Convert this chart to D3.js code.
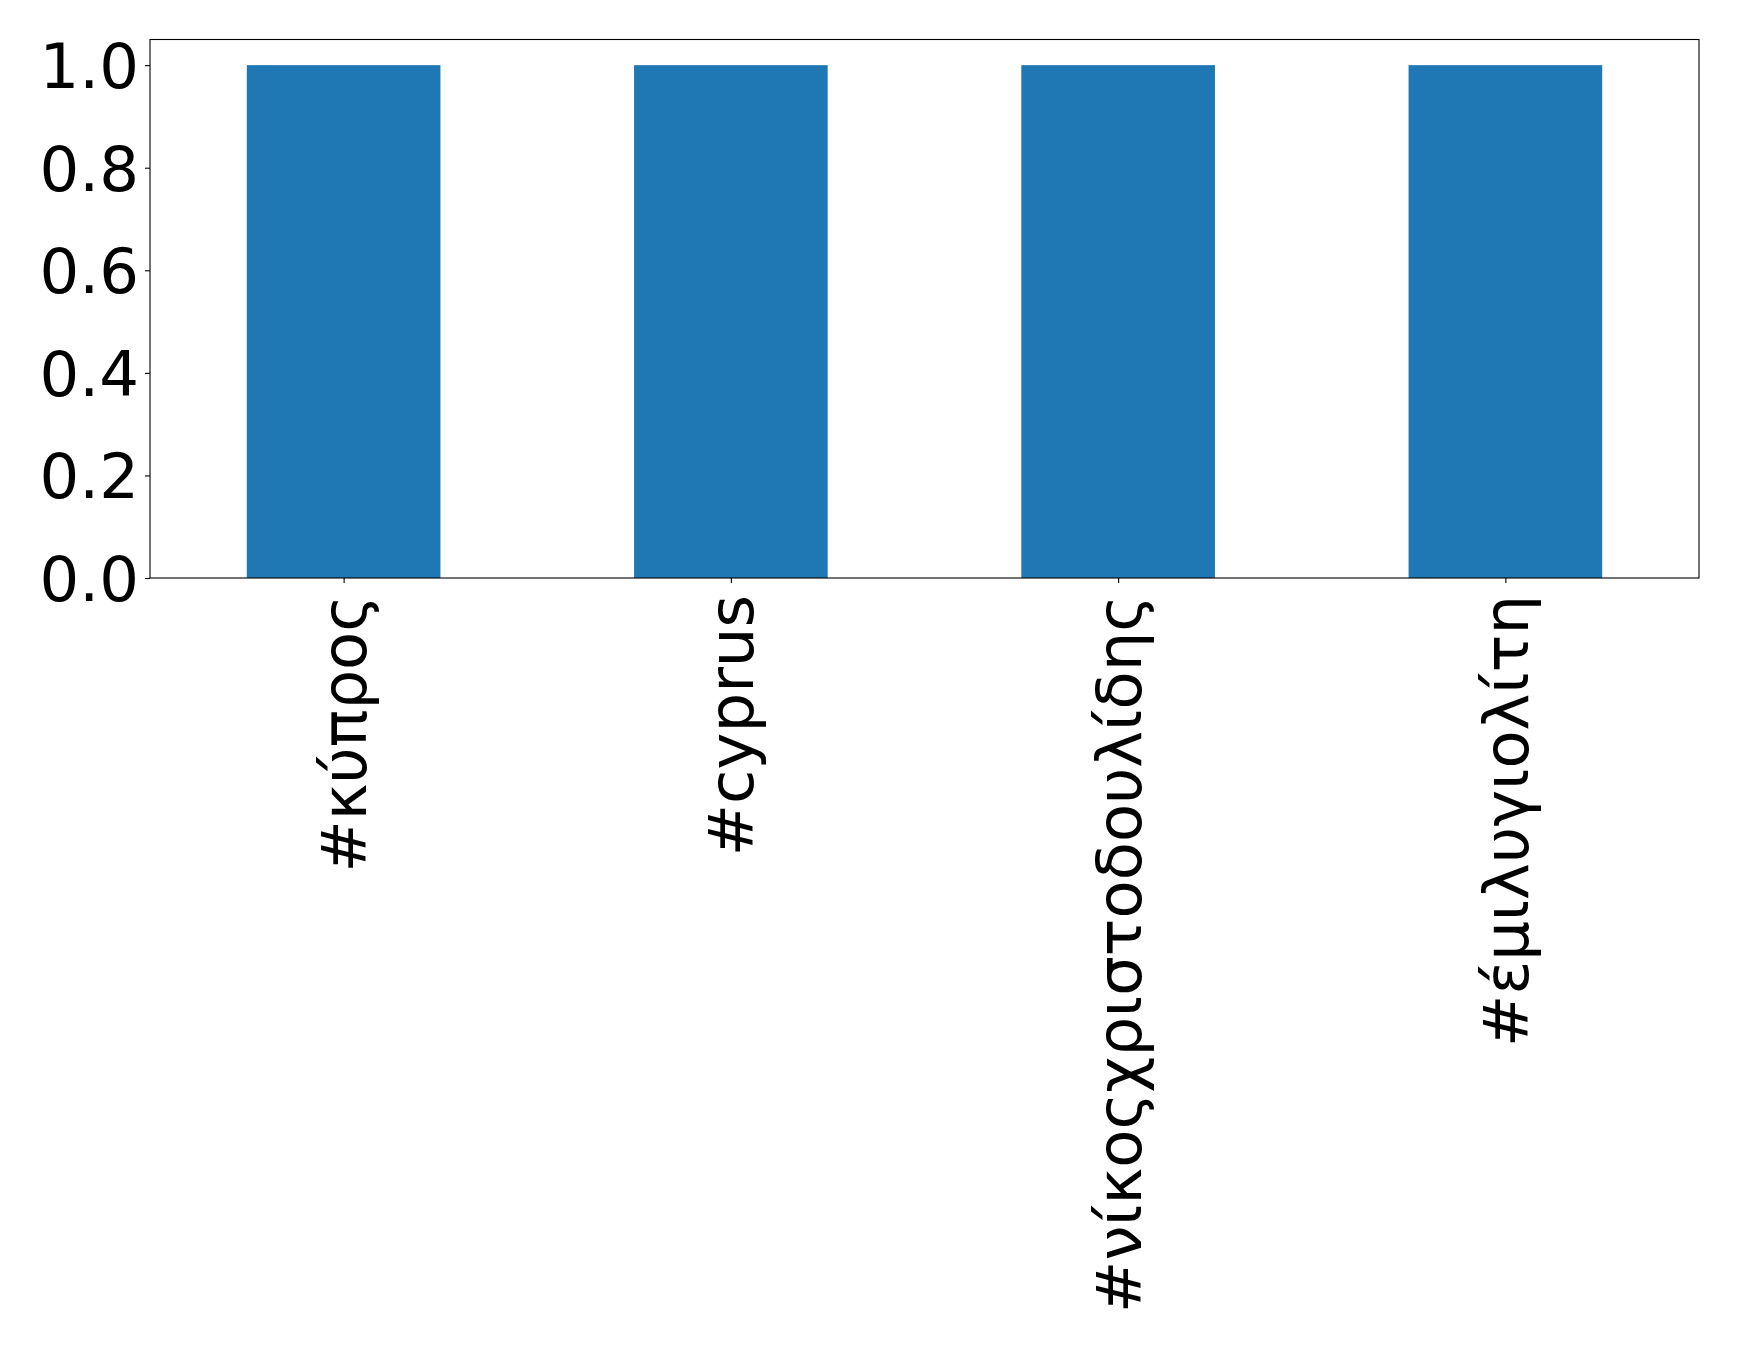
<!DOCTYPE html>
<html>
<head>
<meta charset="utf-8">
<script src="https://cdn.jsdelivr.net/npm/d3@7"></script>
<style>
  html, body { margin: 0; padding: 0; background: #fff; }
  svg { display: block; }
  text { font-family: "DejaVu Sans", sans-serif; }
</style>
</head>
<body>
<script>
const categories = ["#κύπρος", "#cyprus", "#νίκοςχριστοδουλίδης", "#έμιλυγιολίτη"];
const values = [1.0, 1.0, 1.0, 1.0];
const yTicks = [0.0, 0.2, 0.4, 0.6, 0.8, 1.0];

const W = 1739, H = 1346;
const margin = { left: 150, right: 40, top: 39.5, bottom: 768 };
const plotW = W - margin.left - margin.right;
const plotH = H - margin.top - margin.bottom;
const fontSize = 62.5;

const svg = d3.select("body").append("svg").attr("width", W).attr("height", H);
const g = svg.append("g").attr("transform", `translate(${margin.left},${margin.top})`);

const xLin = d3.scaleLinear().domain([-0.5, categories.length - 0.5]).range([0, plotW]);
const y = d3.scaleLinear().domain([0, 1.05]).range([plotH, 0]);
const barW = 0.5;

g.selectAll("rect.bar").data(values).enter().append("rect")
  .attr("class", "bar")
  .attr("x", (d, i) => xLin(i - barW / 2))
  .attr("width", (d, i) => xLin(i + barW / 2) - xLin(i - barW / 2))
  .attr("y", d => y(d))
  .attr("height", d => y(0) - y(d))
  .attr("fill", "#1f77b4");

// Y axis
const yAxis = d3.axisLeft(y).tickValues(yTicks).tickFormat(d3.format(".1f")).tickSize(5).tickPadding(6);
const yg = g.append("g").call(yAxis);
yg.select(".domain").remove();
yg.selectAll(".tick line").attr("stroke", "#000").attr("stroke-width", 1.1);
yg.selectAll(".tick text").attr("font-size", fontSize).attr("fill", "#000")
  .attr("font-family", "DejaVu Sans").attr("dy", "0.36em");

// X axis
const xAxis = d3.axisBottom(xLin).tickValues(d3.range(categories.length))
  .tickFormat(i => categories[i]).tickSize(5).tickPadding(6);
const xg = g.append("g").attr("transform", `translate(0,${plotH})`).call(xAxis);
xg.select(".domain").remove();
xg.selectAll(".tick line").attr("stroke", "#000").attr("stroke-width", 1.1);
xg.selectAll(".tick text")
  .attr("font-size", fontSize).attr("fill", "#000").attr("font-family", "DejaVu Sans")
  .attr("text-anchor", "end")
  .attr("transform", "rotate(-90)")
  .attr("x", -17).attr("y", 0).attr("dy", "0.35em");

// Frame
g.append("rect").attr("x", 0).attr("y", 0).attr("width", plotW).attr("height", plotH)
  .attr("fill", "none").attr("stroke", "#000").attr("stroke-width", 1.1);
</script>
</body>
</html>
